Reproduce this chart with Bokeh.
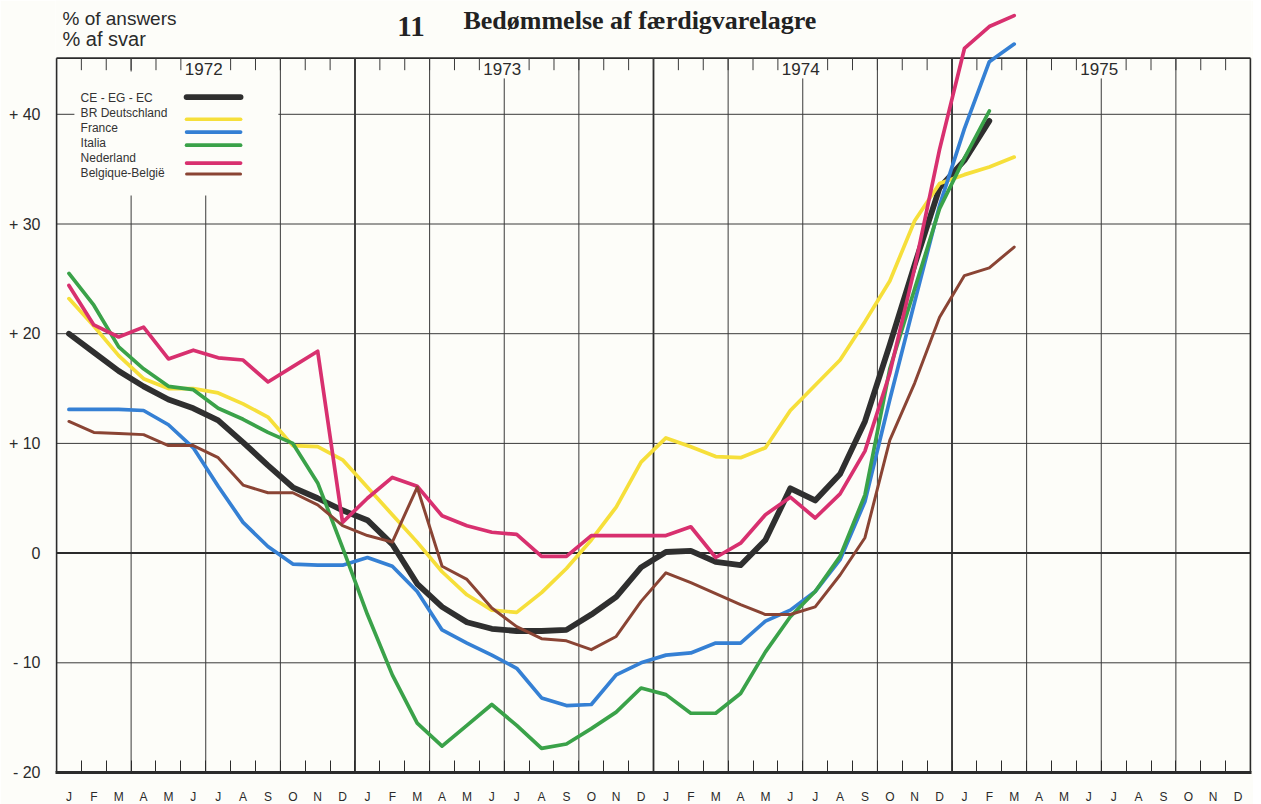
from bokeh.plotting import figure
from bokeh.models import FixedTicker, Range1d
from bokeh.core.properties import value
from bokeh.embed import file_html
from bokeh.resources import INLINE

# ---------------- data ----------------
MONTHS = ["J", "F", "M", "A", "M", "J", "J", "A", "S", "O", "N", "D"] * 4
YEARS = ["1972", "1973", "1974", "1975"]
Y_TICKS = [-20, -10, 0, 10, 20, 30, 40]
Y_TICK_LABELS = ["- 20", "- 10", "0", "+ 10", "+ 20", "+ 30", "+ 40"]
SERIES_NAMES = ["CE - EG - EC", "BR  Deutschland", "France", "Italia",
                "Nederland", "Belgique-België"]

# monthly values from Jan 1972
ce = [20.0, 18.3, 16.6, 15.2, 14.0, 13.2, 12.1, 10.1, 8.0, 6.0, 5.0, 3.9,
      3.0, 0.8, -2.8, -4.9, -6.3, -6.9, -7.1, -7.1, -7.0, -5.6, -4.0, -1.3,
      0.1, 0.2, -0.8, -1.1, 1.2, 5.9, 4.8, 7.2, 12.0, 19.0, 26.3, 33.3,
      35.8, 39.4]
deutschland = [23.2, 20.7, 18.0, 15.9, 15.0, 15.0, 14.6, 13.6, 12.4, 9.8, 9.7, 8.5,
               6.0, 3.5, 1.0, -1.7, -3.8, -5.2, -5.4, -3.6, -1.4, 1.2, 4.2, 8.3,
               10.5, 9.7, 8.8, 8.7, 9.6, 13.0, 15.3, 17.6, 21.1, 24.8, 30.3, 33.7,
               34.5, 35.2, 36.1]
france = [13.1, 13.1, 13.1, 13.0, 11.7, 9.6, 6.1, 2.8, 0.6, -1.0, -1.1, -1.1,
          -0.4, -1.2, -3.5, -7.0, -8.2, -9.3, -10.5, -13.2, -13.9, -13.8, -11.1, -10.0,
          -9.3, -9.1, -8.2, -8.2, -6.2, -5.2, -3.5, -0.6, 4.7, 14.0, 22.9, 31.7,
          38.7, 44.8, 46.4]
italia = [25.5, 22.6, 18.8, 16.8, 15.2, 14.9, 13.2, 12.2, 11.0, 10.0, 6.4, 0.5,
          -5.6, -11.1, -15.5, -17.6, -15.7, -13.8, -15.7, -17.8, -17.4, -16.0, -14.5, -12.3,
          -12.9, -14.6, -14.6, -12.8, -9.0, -5.8, -3.5, -0.3, 5.3, 16.8, 24.1, 31.4,
          36.0, 40.3]
nederland = [24.4, 20.8, 19.7, 20.6, 17.7, 18.5, 17.8, 17.6, 15.6, 17.0, 18.4, 2.8,
             5.0, 6.9, 6.1, 3.4, 2.5, 1.9, 1.7, -0.3, -0.3, 1.6, 1.6, 1.6,
             1.6, 2.4, -0.4, 0.9, 3.5, 5.1, 3.2, 5.4, 9.3, 16.4, 26.0, 36.8,
             46.0, 48.0, 49.0]
belgique = [12.0, 11.0, 10.9, 10.8, 9.8, 9.8, 8.7, 6.2, 5.5, 5.5, 4.4, 2.5,
            1.6, 1.0, 6.0, -1.2, -2.4, -5.0, -6.7, -7.8, -8.0, -8.8, -7.6, -4.4,
            -1.8, -2.7, -3.7, -4.7, -5.6, -5.6, -4.9, -2.0, 1.4, 10.3, 15.5, 21.5,
            25.3, 26.0, 27.9]

SERIES = [ce, deutschland, france, italia, nederland, belgique]
COLORS = ["#2f2f2f", "#f6df3a", "#3580d4", "#3aa249", "#d8306f", "#8a4434"]
WIDTHS = [5.8, 3.7, 3.7, 3.7, 3.7, 3.0]

# ---------------- style ----------------
BG = "#fdfdf9"
INK = "#2b2b2b"
SANS = value("Liberation Sans")
SERIF = value("Liberation Serif")
N = len(MONTHS)
BOX_TOP = 45.12
LEFT, RIGHT = -0.5, N - 0.5
Y_TOP = -20 + 772 / 10.97

p = figure(frame_width=1196, frame_height=772,
           min_border_left=55, min_border_right=2,
           min_border_top=0, min_border_bottom=32,
           x_range=Range1d(-0.54, N - 0.46), y_range=Range1d(-20, Y_TOP),
           output_backend="svg", toolbar_location=None,
           background_fill_color=BG, border_fill_color=BG)
p.outline_line_color = None
p.xgrid.visible = False
p.ygrid.visible = False

# axes
p.yaxis.ticker = FixedTicker(ticks=Y_TICKS)
p.yaxis.major_label_overrides = dict(zip(Y_TICKS, Y_TICK_LABELS))
p.yaxis.axis_line_color = None
p.yaxis.major_tick_line_color = None
p.yaxis.minor_tick_line_color = None
p.yaxis.major_label_standoff = 9
p.yaxis.major_label_text_font = "Liberation Sans"
p.yaxis.major_label_text_font_size = "16px"
p.yaxis.major_label_text_color = INK

p.xaxis.ticker = FixedTicker(ticks=list(range(N)),
                             minor_ticks=[i + 0.5 for i in range(-1, N)])
p.xaxis.major_label_overrides = {i: MONTHS[i] for i in range(N)}
p.xaxis.major_tick_in = 0
p.xaxis.major_tick_out = 0
p.xaxis.minor_tick_in = 12
p.xaxis.minor_tick_out = 0
p.xaxis.minor_tick_line_color = INK
p.xaxis.axis_line_width = 3
p.xaxis.axis_line_color = INK
p.xaxis.major_label_standoff = 17
p.xaxis.major_label_text_font = "Liberation Sans"
p.xaxis.major_label_text_font_size = "12px"
p.xaxis.major_label_text_color = "#2a2a2a"

# ---------------- grid / frame ----------------
year_lines = [12 * k - 0.5 for k in range(1, 4)]
label_bounds = [12 * k + 5.5 for k in range(4)]
quarter_lines = [3 * k - 0.5 for k in range(1, 16) if (3 * k) % 12 != 0]
q_top = [BOX_TOP - 1.85 if q in label_bounds else BOX_TOP for q in quarter_lines]
p.segment(x0=quarter_lines, x1=quarter_lines, y0=[-20] * len(quarter_lines), y1=q_top,
          line_color="#3a3a3a", line_width=1)
p.segment(x0=year_lines, x1=year_lines, y0=[-20] * 3, y1=[BOX_TOP] * 3,
          line_color=INK, line_width=1.8)
h_lines = [t for t in Y_TICKS if t not in (-20, 0)]
p.segment(x0=[LEFT] * len(h_lines), x1=[RIGHT] * len(h_lines), y0=h_lines, y1=h_lines,
          line_color="#3a3a3a", line_width=1)
p.segment(x0=[LEFT], x1=[RIGHT], y0=[0], y1=[0], line_color=INK, line_width=2)
# box
p.segment(x0=[LEFT, RIGHT, LEFT], x1=[LEFT, RIGHT, RIGHT],
          y0=[-20, -20, BOX_TOP], y1=[BOX_TOP, BOX_TOP, BOX_TOP],
          line_color=INK, line_width=1.8)
# top month ticks
top_ticks = [i + 0.5 for i in range(N - 1) if (i + 0.5) not in label_bounds]
p.segment(x0=top_ticks, x1=top_ticks, y0=[BOX_TOP - 1.1] * len(top_ticks),
          y1=[BOX_TOP] * len(top_ticks), line_color="#3a3a3a", line_width=1)

# legend background
p.quad(left=[0.22], right=[8.42], bottom=[32.6], top=[43.9],
       fill_color=BG, line_color=None)

# year labels
p.text(x=[b - 0.08 for b in label_bounds], y=[BOX_TOP - 1.0] * 4, text=YEARS,
       text_font=SANS, text_font_size="17px", text_color=INK,
       text_align="center", text_baseline="middle")

# ---------------- series ----------------
for s, c, w in zip(SERIES, COLORS, WIDTHS):
    p.line(x=list(range(len(s))), y=s, line_color=c, line_width=w,
           line_join="round", line_cap="round")

# legend (label left, swatch right)
leg_text_y = [41.48, 40.11, 38.74, 37.38, 36.01, 34.64]
leg_line_y = [41.57, 39.55, 38.38, 37.19, 35.55, 34.55]
p.text(x=[0.47] * 6, y=leg_text_y, text=SERIES_NAMES, text_font=SANS,
       text_font_size="12px", text_color="#333333", text_baseline="middle")
for yy, c, w in zip(leg_line_y, COLORS, WIDTHS):
    p.segment(x0=[4.73], x1=[6.9], y0=[yy], y1=[yy], line_color=c,
              line_width=w, line_cap="round")

# titles
p.text(x=[-0.26], y=[48.72], text=["% of answers"],
       text_font=SANS, text_font_size="19px", text_color=INK, text_baseline="middle")
p.text(x=[-0.26], y=[46.9], text=["% af svar"],
       text_font=SANS, text_font_size="20px", text_color=INK, text_baseline="middle")
p.text(x=[13.2], y=[48.04], text=["11"], text_font=SERIF, text_font_style="bold",
       text_font_size="29px", text_color="#222222", text_baseline="alphabetic")
p.text(x=[15.86], y=[48.59], text=["Bedømmelse af færdigvarelagre"], text_font=SERIF,
       text_font_style="bold", text_font_size="26px", text_color="#222222",
       text_baseline="alphabetic")

open("out.html", "w").write(file_html(p, INLINE))
